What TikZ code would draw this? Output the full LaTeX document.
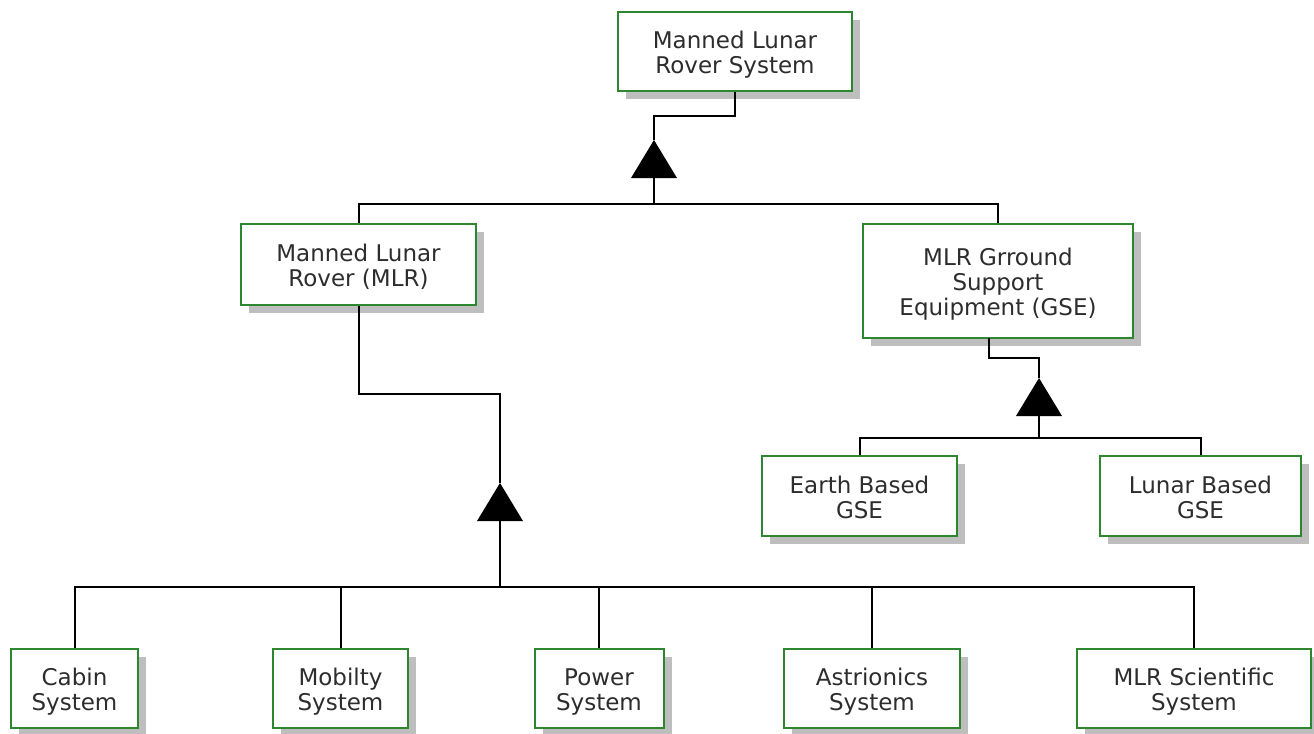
\documentclass[tikz,border=0pt]{standalone}
\usepackage{fontspec}
\setmainfont{DejaVu Sans}
\usetikzlibrary{shadows}
\definecolor{boxgreen}{RGB}{46,135,46}
\definecolor{txtgray}{RGB}{45,45,45}
\definecolor{shadowgray}{RGB}{190,190,190}
\newcommand{\bxt}[1]{\raisebox{-2.3pt}[\height][\depth]{\begin{tabular}{@{}c@{}}#1\end{tabular}}}
\begin{document}
\begin{tikzpicture}[x=0.5pt,y=-0.5pt,
  box/.style={draw=boxgreen, line width=1pt, fill=white,
    text=txtgray, font=\fontsize{11.5pt}{12.5pt}\selectfont, inner sep=0pt,
    general shadow={fill=shadowgray, shadow xshift=4pt, shadow yshift=-4pt}},
  conn/.style={draw=black, line width=1pt},
  tri/.style={fill=black}]
\useasboundingbox (0,0) rectangle (1314,734);
% boxes
\node[box, minimum width=117pt, minimum height=39.5pt] (top) at (735,51.5) {\bxt{Manned Lunar\\Rover System}};
\node[box, minimum width=117.5pt, minimum height=40.5pt] (mlr) at (358.5,264.5) {\bxt{Manned Lunar\\Rover (MLR)}};
\node[box, minimum width=135pt, minimum height=57pt] (gse) at (998,281) {\bxt{MLR Grround\\Support\\Equipment (GSE)}};
\node[box, minimum width=97.5pt, minimum height=40pt] (earth) at (859.5,496) {\bxt{Earth Based\\GSE}};
\node[box, minimum width=100.5pt, minimum height=40pt] (lunar) at (1200.5,496) {\bxt{Lunar Based\\GSE}};
\node[box, minimum width=63.5pt, minimum height=39.5pt] (cabin) at (74.5,688.5) {\bxt{Cabin\\System}};
\node[box, minimum width=67.5pt, minimum height=39.5pt] (mob) at (340.5,688.5) {\bxt{Mobilty\\System}};
\node[box, minimum width=64.5pt, minimum height=39.5pt] (pow) at (599,688.5) {\bxt{Power\\System}};
\node[box, minimum width=88pt, minimum height=39.5pt] (astr) at (872,688.5) {\bxt{Astrionics\\System}};
\node[box, minimum width=117pt, minimum height=39.5pt] (sci) at (1194,688.5) {\bxt{MLR Scientific\\System}};
% coordinates
\coordinate (b1) at (654,116);
\coordinate (t1a) at (654,140);
\coordinate (t1b) at (654,178);
\coordinate (j1) at (654,204);
\coordinate (b2) at (500,394);
\coordinate (t2a) at (500,483);
\coordinate (t2b) at (500,521);
\coordinate (j2) at (500,587);
\coordinate (b3s) at (989,338);
\coordinate (b3) at (989,358);
\coordinate (t3a) at (1039,378);
\coordinate (t3b) at (1039,416);
\coordinate (j3) at (1039,438);
% triangles
\fill[tri] (t1b) ++(-23,0) -- ++(46,0) -- (t1a) -- cycle;
\fill[tri] (t2b) ++(-23,0) -- ++(46,0) -- (t2a) -- cycle;
\fill[tri] (t3b) ++(-23,0) -- ++(46,0) -- (t3a) -- cycle;
% connectors
\draw[conn] (top.south) |- (b1) -- (t1a);
\draw[conn] (t1b) -- (j1);
\draw[conn] (mlr.north) |- (j1) -| (gse.north);
\draw[conn] (mlr.south) |- (b2) -- (t2a);
\draw[conn] (t2b) -- (j2);
\draw[conn] (cabin.north) |- (j2) -| (sci.north);
\draw[conn] (mob.north) -- (mob.north |- j2);
\draw[conn] (pow.north) -- (pow.north |- j2);
\draw[conn] (astr.north) -- (astr.north |- j2);
\draw[conn] (b3s) -- (b3) -- (b3 -| t3a) -- (t3a);
\draw[conn] (t3b) -- (j3);
\draw[conn] (earth.north) |- (j3) -| (lunar.north);
\end{tikzpicture}
\end{document}
